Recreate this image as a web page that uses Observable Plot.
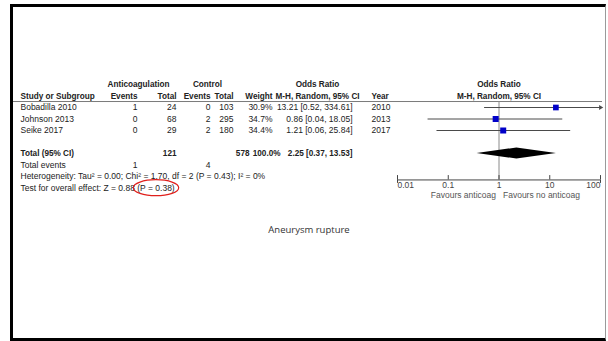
<!DOCTYPE html>
<html>
<head>
<meta charset="utf-8">
<script src="https://cdn.jsdelivr.net/npm/d3@7"></script>
<script src="https://cdn.jsdelivr.net/npm/@observablehq/plot@0.6"></script>
<style>
  html, body { margin: 0; padding: 0; background: #fff; }
  #page { position: relative; width: 608px; height: 341px; overflow: hidden; }
  #frame {
    position: absolute; left: 10px; top: 4px; width: 592px; height: 331px;
    border-left: 3px solid #000; border-top: 3px solid #000;
    border-bottom: 3px solid #000; border-right: 1px solid #9a9a9a;
  }
  #chart { position: absolute; left: 0; top: 0; }
  #caption {
    position: absolute; left: 13px; width: 592px; top: 223px; text-align: center;
    font-family: "Open Sans", sans-serif; font-size: 9.5px; color: #333;
  }
</style>
</head>
<body>
<div id="page">
  <div id="frame"></div>
  <div id="chart"></div>
  <div id="caption">Aneurysm rupture</div>
</div>
<script>
// Study-level data (anticoagulation vs control, aneurysm rupture)
const studies    = ["Bobadilla 2010", "Johnson 2013", "Seike 2017"];
const antiEvents = [1, 0, 0];
const antiTotal  = [24, 68, 29];
const ctrlEvents = [0, 2, 2];
const ctrlTotal  = [103, 295, 180];
const weights    = [30.9, 34.7, 34.4];
const oddsRatio  = [13.21, 0.86, 1.21];
const ciLow      = [0.52, 0.04, 0.06];
const ciHigh     = [334.61, 18.05, 25.84];
const years      = ["2010", "2013", "2017"];

// Pooled estimate
const pooledOR   = 2.25;
const pooledLow  = 0.37;
const pooledHigh = 13.53;
const pooledAntiTotal = 121;
const pooledCtrlTotal = 578;
const pooledWeight = 100.0;

const heterogeneityText = "Heterogeneity: Tau\u00b2 = 0.00; Chi\u00b2 = 1.70, df = 2 (P = 0.43); I\u00b2 = 0%";
const overallEffectText = "Test for overall effect: Z = 0.88 (P = 0.38)";

const axisTicks = [0.01, 0.1, 1, 10, 100];
const favoursLeft = "Favours anticoag";
const favoursRight = "Favours no anticoag";

// ---- layout ----
const W = 608, H = 341;
const mLeft = 13, mRight = 6;
const n = studies.length;
const rows = studies.map((s, i) => ({
  study: s, or: oddsRatio[i], lo: ciLow[i], hi: ciHigh[i], weight: weights[i], row: i
}));
const totalRow = n + 1;
const eventsRow = n + 2;
const hetRow = n + 3;
const testRow = n + 4;
const headRow1 = -2, headRow2 = -1, ruleRow = -0.52;
const axisRow = 6.3;
const xMin = axisTicks[0], xMax = axisTicks[axisTicks.length - 1];

const fmt2 = d3.format(".2f");
const ciText = (o, l, h) => `${fmt2(o)} [${fmt2(l)}, ${fmt2(h)}]`;

const txt = "#222";
const regular = {fontSize: 8.5, fill: txt};
const bold = {fontSize: 8.2, fontWeight: "bold", fill: txt};

// A text column anchored at a pixel offset inside the table area
function column(values, rowOf, xPos, anchor, style) {
  return Plot.text(values, {
    y: (d, i) => rowOf(i), text: d => String(d), frameAnchor: "left",
    dx: xPos - mLeft, textAnchor: anchor, ...style
  });
}
const studyRow = i => i;
const at = r => () => r;

const col = {study: 20, antiEv: 137, antiTot: 176, ctrlEv: 210, ctrlTot: 233, weight: 272, ci: 352, year: 371};
// the bold pooled row sits slightly to the right for its control/weight cells
const totCol = {ctrlTot: 249, weight: 280};

// diamond outline for the pooled estimate
const dh = 0.48;
const diamond = [
  {x: pooledLow, ya: totalRow, yb: totalRow},
  {x: pooledOR, ya: totalRow - dh, yb: totalRow + dh},
  {x: pooledHigh, ya: totalRow, yb: totalRow}
];

const plot = Plot.plot({
  width: W, height: H,
  marginLeft: mLeft, marginRight: mRight, marginTop: 0, marginBottom: 0,
  style: {fontFamily: "'Liberation Sans', Arial, sans-serif", background: "transparent", overflow: "visible"},
  x: {type: "log", domain: [xMin, xMax], range: [397, 600], axis: null},
  y: {domain: [0, 7], range: [107, 187.5], axis: null},
  r: {range: [0, 3.4]},
  marks: [
    // header rule across the whole table
    Plot.ruleY([ruleRow], {stroke: "#7a7a7a"}),
    // line of no effect
    Plot.ruleX([1], {y1: ruleRow, y2: axisRow, stroke: "#8a8a8a"}),

    // confidence intervals, clipped to the axis range
    Plot.ruleY(rows, {y: "row", x1: d => Math.max(d.lo, xMin), x2: d => Math.min(d.hi, xMax), stroke: "#4a4a4a"}),
    Plot.dot(rows.filter(d => d.hi > xMax), {x: () => xMax, y: "row", symbol: "triangle2", rotate: 90, r: 2.3, fill: "#4a4a4a", stroke: null}),
    // study estimates
    Plot.dot(rows, {x: "or", y: "row", r: "weight", symbol: "square", fill: "#0000c8", stroke: null}),
    // pooled diamond
    Plot.area(diamond, {x1: "x", y1: "ya", y2: "yb", fill: "#000", curve: "linear"}),

    // axis
    Plot.ruleY([axisRow], {x1: () => xMin, x2: () => xMax, stroke: "#444"}),
    Plot.ruleX(axisTicks, {x: d => d, y1: axisRow, y2: axisRow - 0.38, stroke: "#444"}),
    Plot.ruleX([xMin, xMax], {x: d => d, y1: axisRow, y2: axisRow + 0.3, stroke: "#444"}),
    Plot.text(axisTicks.slice(1, -1), {x: d => d, y: at(axisRow + 0.45), text: d => String(d), textAnchor: "middle", fontSize: 8.5, fill: "#444"}),
    Plot.text([xMin], {x: d => d, y: at(axisRow + 0.45), text: d => String(d), textAnchor: "start", fontSize: 8.5, fill: "#444"}),
    Plot.text([xMax], {x: d => d, y: at(axisRow + 0.45), text: d => String(d), textAnchor: "end", fontSize: 8.5, fill: "#444"}),
    Plot.text([favoursLeft], {x: () => 1, y: at(axisRow + 1.3), text: d => d, textAnchor: "end", dx: -3, fontSize: 8.5, fill: "#555"}),
    Plot.text([favoursRight], {x: () => 1, y: at(axisRow + 1.3), text: d => d, textAnchor: "start", dx: 4, fontSize: 8.5, fill: "#555"}),

    // plot headers
    Plot.text(["Odds Ratio"], {x: () => 1, y: at(headRow1), text: d => d, ...bold}),
    Plot.text(["M-H, Random, 95% CI"], {x: () => 1, y: at(headRow2), text: d => d, ...bold}),

    // table headers
    column(["Anticoagulation"], at(headRow1), 138, "middle", bold),
    column(["Control"], at(headRow1), 207, "middle", bold),
    column(["Odds Ratio"], at(headRow1), 317, "middle", bold),
    column(["Study or Subgroup"], at(headRow2), col.study, "start", bold),
    column(["Events"], at(headRow2), col.antiEv, "end", bold),
    column(["Total"], at(headRow2), col.antiTot, "end", bold),
    column(["Events"], at(headRow2), col.ctrlEv, "end", bold),
    column(["Total"], at(headRow2), col.ctrlTot, "end", bold),
    column(["Weight"], at(headRow2), col.weight, "end", bold),
    column(["M-H, Random, 95% CI"], at(headRow2), 317, "middle", bold),
    column(["Year"], at(headRow2), col.year, "start", bold),

    // study rows
    column(studies, studyRow, col.study, "start", regular),
    column(antiEvents, studyRow, col.antiEv, "end", regular),
    column(antiTotal, studyRow, col.antiTot, "end", regular),
    column(ctrlEvents, studyRow, col.ctrlEv, "end", regular),
    column(ctrlTotal, studyRow, col.ctrlTot, "end", regular),
    column(weights.map(w => w.toFixed(1) + "%"), studyRow, col.weight, "end", regular),
    column(oddsRatio.map((o, i) => ciText(o, ciLow[i], ciHigh[i])), studyRow, col.ci, "end", regular),
    column(years, studyRow, col.year, "start", regular),

    // pooled row
    column(["Total (95% CI)"], at(totalRow), col.study, "start", bold),
    column([pooledAntiTotal], at(totalRow), col.antiTot, "end", bold),
    column([pooledCtrlTotal], at(totalRow), totCol.ctrlTot, "end", bold),
    column([pooledWeight.toFixed(1) + "%"], at(totalRow), totCol.weight, "end", bold),
    column([ciText(pooledOR, pooledLow, pooledHigh)], at(totalRow), col.ci, "end", bold),

    // summary lines
    column(["Total events"], at(eventsRow), col.study, "start", regular),
    column([d3.sum(antiEvents)], at(eventsRow), col.antiEv, "end", regular),
    column([d3.sum(ctrlEvents)], at(eventsRow), col.ctrlEv, "end", regular),
    column([heterogeneityText], at(hetRow), col.study, "start", regular),
    column([overallEffectText], at(testRow), col.study, "start", regular)
  ]
});

document.getElementById("chart").append(plot);

// red ellipse around the p-value of the overall effect test
const testEl = [...plot.querySelectorAll("text")].find(t => t.textContent === overallEffectText);
if (testEl) {
  const s = overallEffectText;
  const k = s.indexOf("(P");
  const bb = testEl.getBBox();
  const x0 = bb.x + testEl.getSubStringLength(0, k);
  const w = testEl.getSubStringLength(k, s.length - k);
  const e = document.createElementNS("http://www.w3.org/2000/svg", "ellipse");
  e.setAttribute("cx", x0 + w / 2);
  e.setAttribute("cy", bb.y + bb.height / 2);
  e.setAttribute("rx", w / 2 + 4);
  e.setAttribute("ry", 8);
  e.setAttribute("fill", "none");
  e.setAttribute("stroke", "#e0201c");
  e.setAttribute("stroke-width", 1.2);
  const tf = testEl.getAttribute("transform");
  if (tf) e.setAttribute("transform", tf);
  testEl.parentNode.appendChild(e);
}
</script>
</body>
</html>
